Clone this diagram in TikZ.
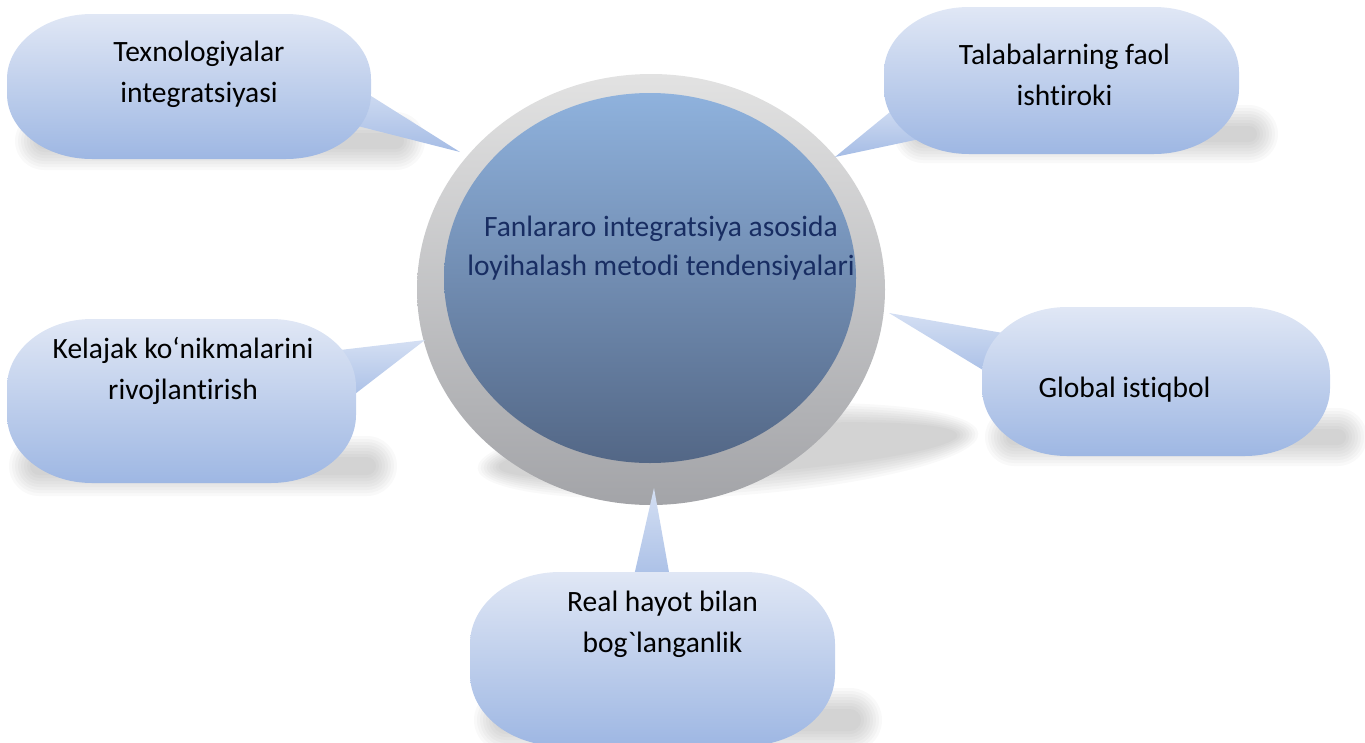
\documentclass[tikz,border=0pt]{standalone}
\usepackage{fontspec}
\newfontfamily\cf{Carlito}[Ligatures={NoCommon,NoContextual}]
\usetikzlibrary{shapes.geometric}
\definecolor{ringtop}{RGB}{226,226,226}
\definecolor{ringbot}{RGB}{163,164,168}
\definecolor{coretop}{RGB}{143,178,221}
\definecolor{corebot}{RGB}{83,103,134}
\definecolor{boxtop}{RGB}{224,231,245}
\definecolor{boxbot}{RGB}{158,183,227}
\definecolor{wedgetop}{RGB}{212,223,243}
\definecolor{wedgebot}{RGB}{165,188,229}
\definecolor{titlecol}{RGB}{24,45,98}
% soft shadow: rounded bar, core centre (#1,#2), core size #3 x #4
\newcommand\blurbar[4]{%
  \foreach \i in {0,...,7}{%
    \pgfmathsetmacro\rr{#4/2+3*\i}%
    \fill[black, fill opacity=0.024, rounded corners=\rr pt]
      ({#1-#3/2-3*\i},{#2-#4/2-3*\i}) rectangle ({#1+#3/2+3*\i},{#2+#4/2+3*\i});
  }}
% soft shadow: ellipse
\newcommand\blurell[5]{%
  \foreach \i in {0,...,7}{%
    \fill[black, fill opacity=0.024, rotate around={#5:(#1,#2)}]
      (#1,#2) ellipse[x radius={#3+3*\i}, y radius={#4+3*\i}];
  }}
% callout body with elliptical corners
\newcommand\bubble[6]{%
  \path[bubblefill] ({#1+#5},#2) -- ({#3-#5},#2)
    arc[start angle=-90,end angle=0,x radius=#5,y radius=#6] -- (#3,{#4-#6})
    arc[start angle=0,end angle=90,x radius=#5,y radius=#6] -- ({#1+#5},#4)
    arc[start angle=90,end angle=180,x radius=#5,y radius=#6] -- (#1,{#2+#6})
    arc[start angle=180,end angle=270,x radius=#5,y radius=#6] -- cycle;}
\tikzset{
  bubblefill/.style={top color=boxtop, bottom color=boxbot, draw=none},
  wedgefill/.style={top color=wedgetop, bottom color=wedgebot, draw=none},
  lbl/.style={font=\cf\fontsize{29.5}{41}\selectfont, align=center, inner sep=0pt, text=black},
}
\begin{document}
\begin{tikzpicture}[x=1pt,y=-1pt]
\useasboundingbox (0,0) rectangle (1365,742);
% ---- shadows
\blurell{728}{451}{230}{24}{4}
\blurbar{220}{141}{368}{16}
\blurbar{1086}{134}{342}{16}
\blurbar{203}{466}{346}{18}
\blurbar{1176}{437}{340}{16}
\blurbar{678}{720}{366}{22}
% ---- central circle
\node[ellipse, minimum width=468pt, minimum height=431pt, inner sep=0pt,
      top color=ringtop, bottom color=ringbot] (ring) at (651,289.5) {};
\node[ellipse, minimum width=412pt, minimum height=370pt, inner sep=0pt,
      top color=coretop, bottom color=corebot] (core) at (650,278) {};
\node[lbl, font=\cf\fontsize{29.5}{39}\selectfont, text=titlecol] (title) at (661,248)
  {Fanlararo integratsiya asosida\\loyihalash metodi tendensiyalari};
% ---- wedge tips
\coordinate (t1) at (460,152);
\coordinate (t2) at (835,157);
\coordinate (t3) at (425,340);
\coordinate (t4) at (889,313);
\coordinate (t5) at (654,488);
% ---- wedges
\path[wedgefill] (t1) -- (352,84) -- (342,122) -- cycle;
\path[wedgefill] (t2) -- (901,103) -- (929,137) -- cycle;
\path[wedgefill] (t3) -- (323,352) -- (342,404) -- cycle;
\path[wedgefill] (t4) -- (1020,336) -- (1001,381) -- cycle;
\path[wedgefill] (t5) -- (631,589) -- (672,589) -- cycle;
% ---- callout bodies
\bubble{7}{14}{371}{159}{85}{65}
\bubble{884}{7}{1239}{154}{85}{65}
\bubble{7}{319}{356}{483}{85}{68}
\bubble{982}{307}{1330}{456}{85}{68}
\bubble{470}{572}{835}{746}{90}{72}
% ---- texts
\node[lbl] (tex) at (199,74) {Texnologiyalar\\integratsiyasi};
\node[lbl] (tal) at (1064.5,75) {Talabalarning faol\\ishtiroki};
\node[lbl] (kel) at (183,371) {Kelajak ko‘nikmalarini\\rivojlantirish};
\node[lbl] (glo) at (1124.5,389.5) {Global istiqbol};
\node[lbl] (real) at (662.5,624) {Real hayot bilan\\bog`langanlik};
\end{tikzpicture}
\end{document}
